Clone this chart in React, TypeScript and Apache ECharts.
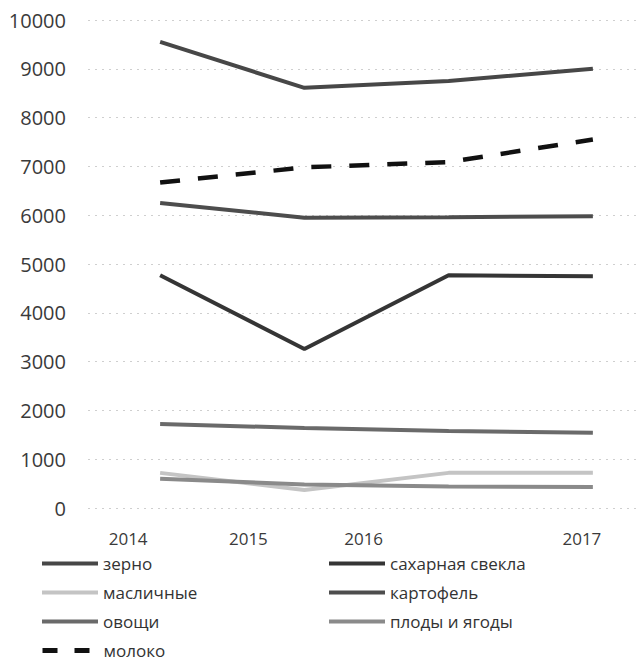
import React, { useEffect, useRef } from "react";
import * as echarts from "echarts";

const years = ["2014", "2015", "2016", "2017"];

const zerno = [9550, 8610, 8750, 9000];
const saharnayaSvekla = [4770, 3260, 4770, 4750];
const maslichnye = [720, 370, 720, 720];
const kartofel = [6250, 5950, 5960, 5980];
const ovoshchi = [1720, 1640, 1580, 1540];
const plody = [600, 480, 440, 430];
const moloko = [6670, 6980, 7090, 7550];

const seriesNames = [
  "зерно",
  "сахарная свекла",
  "масличные",
  "картофель",
  "овощи",
  "плоды и ягоды",
  "молоко",
];
const seriesData = [zerno, saharnayaSvekla, maslichnye, kartofel, ovoshchi, plody, moloko];
const seriesColors = ["#474747", "#353535", "#c4c4c4", "#4d4d4d", "#6a6a6a", "#8a8a8a", "#111111"];

const FONT = "'Open Sans', 'Noto Sans', sans-serif";

export default function App() {
  const ref = useRef<HTMLDivElement>(null);

  useEffect(() => {
    document.body.style.margin = "0";
    if (!ref.current) return;
    const chart = echarts.init(ref.current, null, { renderer: "svg" });

    const labelShift: Record<string, number> = { "2014": 64, "2015": 112, "2016": 170, "2017": 22 };
    const rich: Record<string, any> = {};
    years.forEach((y) => {
      rich["y" + y] = {
        fontSize: 17,
        fontFamily: FONT,
        color: "#3a3a3a",
        padding: [0, labelShift[y], 0, 0],
      };
    });

    const legendCommon = {
      orient: "vertical",
      padding: 0,
      itemWidth: 56,
      itemHeight: 14,
      itemGap: 12,
      itemStyle: { opacity: 0 },
      lineStyle: { width: 4 },
      textStyle: { fontSize: 17, fontFamily: FONT, color: "#333" },
    };

    chart.setOption({
      animation: false,
      backgroundColor: "#ffffff",
      grid: { left: 88, top: 20, width: 577, height: 488 },
      xAxis: {
        type: "category",
        data: years,
        boundaryGap: true,
        axisLine: { show: false },
        axisTick: { show: false },
        axisLabel: {
          margin: 22,
          formatter: (v: string) => `{y${v}|${v}}`,
          rich,
        },
      },
      yAxis: {
        type: "value",
        min: 0,
        max: 10000,
        interval: 1000,
        axisLine: { show: false },
        axisTick: { show: false },
        axisLabel: {
          margin: 22,
          fontSize: 20,
          fontFamily: FONT,
          color: "#3a3a3a",
          formatter: (v: number) => String(v),
        },
        splitLine: {
          lineStyle: { color: "#cfcfcf", type: [2, 5], width: 1 },
        },
      },
      legend: [
        {
          ...legendCommon,
          left: 40,
          top: 555,
          data: ["зерно", "масличные", "овощи"],
        },
        {
          ...legendCommon,
          left: 40,
          top: 642,
          data: [{ name: "молоко", lineStyle: { type: [15, 17], width: 5 } }],
        },
        {
          ...legendCommon,
          left: 327,
          top: 555,
          data: ["сахарная свекла", "картофель", "плоды и ягоды"],
        },
      ],
      series: seriesNames.map((name, i) => ({
        name,
        type: "line",
        data: seriesData[i],
        symbol: "none",
        color: seriesColors[i],
        lineStyle: {
          color: seriesColors[i],
          width: name === "молоко" ? 4.5 : 4,
          type: name === "молоко" ? [20, 18] : "solid",
        },
      })),
    });

    return () => chart.dispose();
  }, []);

  return (
    <div style={{ width: 641, height: 661, overflow: "hidden", position: "relative" }}>
      <div ref={ref} style={{ width: 665, height: 661 }} />
    </div>
  );
}
